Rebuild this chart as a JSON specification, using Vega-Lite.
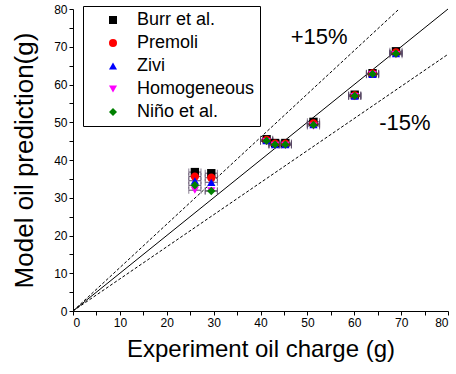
{
  "$schema": "https://vega.github.io/schema/vega-lite/v6.json",
  "width": 375,
  "height": 302,
  "autosize": "none",
  "padding": {"left": 73, "top": 9, "right": 8, "bottom": 63},
  "background": "white",
  "config": {
    "view": {"stroke": null},
    "font": "Liberation Sans",
    "axis": {
      "grid": false,
      "domainColor": "black",
      "tickColor": "black",
      "labelColor": "black",
      "titleColor": "black",
      "labelFont": "Liberation Sans",
      "titleFont": "Liberation Sans",
      "labelFontSize": 12,
      "titleFontSize": 24,
      "titleFontWeight": "normal",
      "tickSize": 4,
      "labelOverlap": false
    }
  },
  "datasets": {
    "pts": [
      {"exp": 26, "model": 36.8, "series": "Burr et al.", "err": 1.3},
      {"exp": 26, "model": 35.6, "series": "Premoli", "err": 1.3},
      {"exp": 26, "model": 34.5, "series": "Zivi", "err": 1.3},
      {"exp": 26, "model": 32.0, "series": "Homogeneous", "err": 1.3},
      {"exp": 26, "model": 33.3, "series": "Niño et al.", "err": 1.3},
      {"exp": 29.5, "model": 36.5, "series": "Burr et al.", "err": 1.3},
      {"exp": 29.5, "model": 35.3, "series": "Premoli", "err": 1.3},
      {"exp": 29.5, "model": 34.1, "series": "Zivi", "err": 1.3},
      {"exp": 29.5, "model": 31.8, "series": "Homogeneous", "err": 1.3},
      {"exp": 29.5, "model": 31.8, "series": "Niño et al.", "err": 1.3},
      {"exp": 41.3, "model": 45.5, "series": "Burr et al.", "err": 1.3},
      {"exp": 41.3, "model": 45.3, "series": "Premoli", "err": 1.3},
      {"exp": 41.3, "model": 45.1, "series": "Zivi", "err": 1.3},
      {"exp": 41.3, "model": 44.9, "series": "Homogeneous", "err": 1.3},
      {"exp": 41.3, "model": 45.1, "series": "Niño et al.", "err": 1.3},
      {"exp": 43.1, "model": 44.5, "series": "Burr et al.", "err": 1.3},
      {"exp": 43.1, "model": 44.3, "series": "Premoli", "err": 1.3},
      {"exp": 43.1, "model": 44.1, "series": "Zivi", "err": 1.3},
      {"exp": 43.1, "model": 43.9, "series": "Homogeneous", "err": 1.3},
      {"exp": 43.1, "model": 44.1, "series": "Niño et al.", "err": 1.3},
      {"exp": 45.3, "model": 44.5, "series": "Burr et al.", "err": 1.3},
      {"exp": 45.3, "model": 44.3, "series": "Premoli", "err": 1.3},
      {"exp": 45.3, "model": 44.1, "series": "Zivi", "err": 1.3},
      {"exp": 45.3, "model": 43.9, "series": "Homogeneous", "err": 1.3},
      {"exp": 45.3, "model": 44.1, "series": "Niño et al.", "err": 1.3},
      {"exp": 51.3, "model": 50.1, "series": "Burr et al.", "err": 1.3},
      {"exp": 51.3, "model": 49.7, "series": "Premoli", "err": 1.3},
      {"exp": 51.3, "model": 49.4, "series": "Zivi", "err": 1.3},
      {"exp": 51.3, "model": 49.0, "series": "Homogeneous", "err": 1.3},
      {"exp": 51.3, "model": 49.3, "series": "Niño et al.", "err": 1.3},
      {"exp": 60.1, "model": 57.3, "series": "Burr et al.", "err": 1.3},
      {"exp": 60.1, "model": 57.1, "series": "Premoli", "err": 1.3},
      {"exp": 60.1, "model": 56.9, "series": "Zivi", "err": 1.3},
      {"exp": 60.1, "model": 56.8, "series": "Homogeneous", "err": 1.3},
      {"exp": 60.1, "model": 57.0, "series": "Niño et al.", "err": 1.3},
      {"exp": 63.9, "model": 63.0, "series": "Burr et al.", "err": 1.3},
      {"exp": 63.9, "model": 62.9, "series": "Premoli", "err": 1.3},
      {"exp": 63.9, "model": 62.7, "series": "Zivi", "err": 1.3},
      {"exp": 63.9, "model": 62.6, "series": "Homogeneous", "err": 1.3},
      {"exp": 63.9, "model": 62.8, "series": "Niño et al.", "err": 1.3},
      {"exp": 68.9, "model": 68.8, "series": "Burr et al.", "err": 1.3},
      {"exp": 68.9, "model": 68.5, "series": "Premoli", "err": 1.3},
      {"exp": 68.9, "model": 68.2, "series": "Zivi", "err": 1.3},
      {"exp": 68.9, "model": 67.9, "series": "Homogeneous", "err": 1.3},
      {"exp": 68.9, "model": 68.2, "series": "Niño et al.", "err": 1.3}
    ],
    "lines": [
      {"line": "plus", "x": 0, "y": 0},
      {"line": "plus", "x": 69.57, "y": 80},
      {"line": "minus", "x": 0, "y": 0},
      {"line": "minus", "x": 80, "y": 68}
    ],
    "ref": [
      {"x": 0, "y": 0},
      {"x": 80, "y": 80}
    ],
    "labels": [
      {"x": 52.5, "y": 72.5, "text": "+15%"},
      {"x": 70.8, "y": 49.8, "text": "-15%"}
    ]
  },
  "layer": [
    {
      "data": {"name": "ref"},
      "mark": {"type": "line", "color": "black", "strokeWidth": 1},
      "encoding": {
        "x": {"field": "x", "type": "quantitative", "scale": {"domain": [0, 80], "nice": false},
              "title": "Experiment oil charge (g)",
              "axis": {"values": [0,5,10,15,20,25,30,35,40,45,50,55,60,65,70,75,80],
                       "labelExpr": "datum.value % 10 === 0 ? datum.label : ''",
                       "labelOverlap": false, "titlePadding": 9}},
        "y": {"field": "y", "type": "quantitative", "scale": {"domain": [0, 80], "nice": false},
              "title": "Model oil prediction(g)",
              "axis": {"values": [0,5,10,15,20,25,30,35,40,45,50,55,60,65,70,75,80],
                       "labelExpr": "datum.value % 10 === 0 ? datum.label : ''",
                       "labelOverlap": false, "titleFontSize": 26, "titlePadding": 16}}
      }
    },
    {
      "data": {"name": "lines"},
      "mark": {"type": "line", "color": "black", "strokeWidth": 1, "strokeDash": [3, 2]},
      "encoding": {
        "x": {"field": "x", "type": "quantitative", "title": "Experiment oil charge (g)",
              "axis": {"values": [0,5,10,15,20,25,30,35,40,45,50,55,60,65,70,75,80],
                       "labelExpr": "datum.value % 10 === 0 ? datum.label : ''",
                       "labelOverlap": false, "titlePadding": 9}},
        "y": {"field": "y", "type": "quantitative", "title": "Model oil prediction(g)",
              "axis": {"values": [0,5,10,15,20,25,30,35,40,45,50,55,60,65,70,75,80],
                       "labelExpr": "datum.value % 10 === 0 ? datum.label : ''",
                       "labelOverlap": false, "titleFontSize": 26, "titlePadding": 16}},
        "detail": {"field": "line"}
      }
    },
    {
      "data": {"name": "pts"},
      "mark": {"type": "errorbar", "ticks": {"size": 7}, "thickness": 1, "color": "#5a4a66"},
      "encoding": {
        "x": {"field": "exp", "type": "quantitative", "title": "Experiment oil charge (g)",
              "axis": {"values": [0,5,10,15,20,25,30,35,40,45,50,55,60,65,70,75,80],
                       "labelExpr": "datum.value % 10 === 0 ? datum.label : ''",
                       "labelOverlap": false, "titlePadding": 9}},
        "xError": {"field": "err"},
        "y": {"field": "model", "type": "quantitative", "title": "Model oil prediction(g)",
              "axis": {"values": [0,5,10,15,20,25,30,35,40,45,50,55,60,65,70,75,80],
                       "labelExpr": "datum.value % 10 === 0 ? datum.label : ''",
                       "labelOverlap": false, "titleFontSize": 26, "titlePadding": 16}}
      }
    },
    {
      "data": {"name": "pts"},
      "mark": {"type": "point", "filled": true, "opacity": 1, "size": 70},
      "encoding": {
        "x": {"field": "exp", "type": "quantitative", "title": "Experiment oil charge (g)",
              "axis": {"values": [0,5,10,15,20,25,30,35,40,45,50,55,60,65,70,75,80],
                       "labelExpr": "datum.value % 10 === 0 ? datum.label : ''",
                       "labelOverlap": false, "titlePadding": 9}},
        "y": {"field": "model", "type": "quantitative", "title": "Model oil prediction(g)",
              "axis": {"values": [0,5,10,15,20,25,30,35,40,45,50,55,60,65,70,75,80],
                       "labelExpr": "datum.value % 10 === 0 ? datum.label : ''",
                       "labelOverlap": false, "titleFontSize": 26, "titlePadding": 16}},
        "color": {"field": "series", "type": "nominal",
                  "scale": {"domain": ["Burr et al.", "Premoli", "Zivi", "Homogeneous", "Niño et al."],
                            "range": ["black", "red", "blue", "magenta", "green"]},
                  "legend": {"title": null, "orient": "none", "legendX": 10, "legendY": -3,
                             "strokeColor": "black", "fillColor": "white", "padding": 5,
                             "symbolOffset": 16, "labelOffset": 15, "labelFontSize": 18,
                             "labelFont": "Liberation Sans", "labelColor": "black",
                             "rowPadding": 5, "symbolSize": 65, "symbolStrokeWidth": 0}},
        "shape": {"field": "series", "type": "nominal",
                  "scale": {"domain": ["Burr et al.", "Premoli", "Zivi", "Homogeneous", "Niño et al."],
                            "range": ["square", "circle", "triangle-up", "triangle-down", "diamond"]}}
      }
    },
    {
      "data": {"name": "labels"},
      "mark": {"type": "text", "fontSize": 22, "font": "Liberation Sans", "color": "black"},
      "encoding": {
        "x": {"field": "x", "type": "quantitative", "title": "Experiment oil charge (g)",
              "axis": {"values": [0,5,10,15,20,25,30,35,40,45,50,55,60,65,70,75,80],
                       "labelExpr": "datum.value % 10 === 0 ? datum.label : ''",
                       "labelOverlap": false, "titlePadding": 9}},
        "y": {"field": "y", "type": "quantitative", "title": "Model oil prediction(g)",
              "axis": {"values": [0,5,10,15,20,25,30,35,40,45,50,55,60,65,70,75,80],
                       "labelExpr": "datum.value % 10 === 0 ? datum.label : ''",
                       "labelOverlap": false, "titleFontSize": 26, "titlePadding": 16}},
        "text": {"field": "text"}
      }
    }
  ]
}
